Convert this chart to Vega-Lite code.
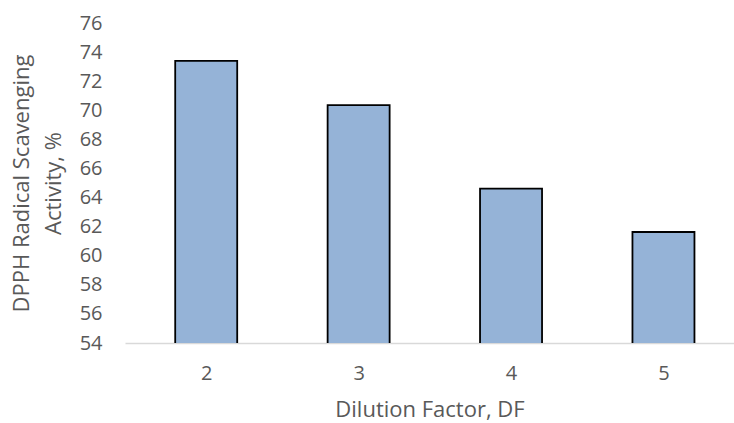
{
  "$schema": "https://vega.github.io/schema/vega-lite/v6.json",
  "autosize": "none",
  "width": 609,
  "height": 320,
  "padding": {"left": 125, "top": 23, "right": 0, "bottom": 80},
  "background": "white",
  "config": {
    "view": {"stroke": null},
    "font": "Open Sans",
    "axis": {"labelFont": "Open Sans", "titleFont": "Open Sans", "labelColor": "#595959", "titleColor": "#595959", "titleFontWeight": "normal", "grid": false, "ticks": false}
  },
  "data": {"values": [
    {"df": 2, "activity": 73.39},
    {"df": 3, "activity": 70.36},
    {"df": 4, "activity": 64.62},
    {"df": 5, "activity": 61.63}
  ]},
  "mark": {"type": "bar", "width": 62, "fill": "#95b3d7", "stroke": "#000000", "strokeWidth": 1.8, "clip": true},
  "encoding": {
    "x": {
      "field": "df", "type": "quantitative",
      "scale": {"domain": [1.5, 5.43], "nice": false, "zero": false},
      "axis": {"values": [2, 3, 4, 5], "title": "Dilution Factor, DF", "labelFontSize": 20, "titleFontSize": 22, "labelPadding": 20, "titlePadding": 16, "domainColor": "#d9d9d9", "domainWidth": 1.5, "labelFlush": false}
    },
    "y": {
      "field": "activity", "type": "quantitative",
      "scale": {"domain": [54, 76], "nice": false, "zero": false},
      "axis": {"values": [54, 56, 58, 60, 62, 64, 66, 68, 70, 72, 74, 76], "title": ["DPPH Radical Scavenging", "Activity, %"], "labelFontSize": 20, "titleFontSize": 22, "titleLineHeight": 32, "labelPadding": 23, "titlePadding": 14, "domain": false}
    }
  }
}
